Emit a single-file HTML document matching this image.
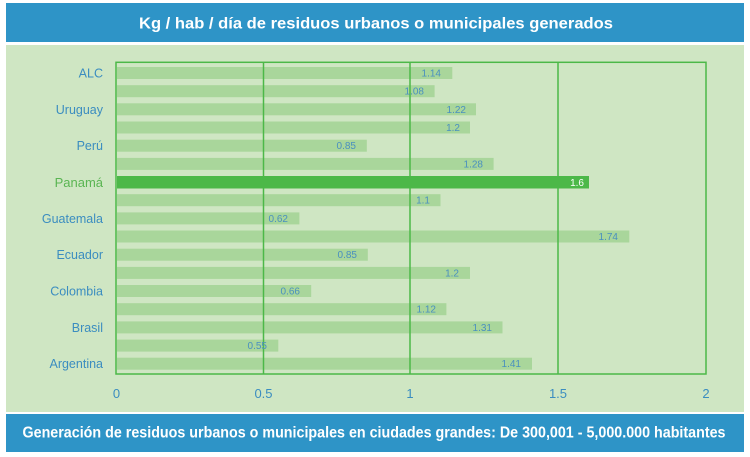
<!DOCTYPE html>
<html><head><meta charset="utf-8"><style>
html,body{margin:0;padding:0;background:#fff;}
svg{display:block;}
</style></head><body>
<svg width="750" height="457" viewBox="0 0 750 457" xmlns="http://www.w3.org/2000/svg" font-family="Liberation Sans, sans-serif">
<rect x="0" y="0" width="750" height="457" fill="#ffffff"/>
<rect x="6" y="3" width="738" height="39" fill="#2e94c7"/>
<text x="376" y="28.5" text-anchor="middle" font-size="15.5" font-weight="bold" fill="#ffffff" textLength="474" lengthAdjust="spacingAndGlyphs">Kg / hab / día de residuos urbanos o municipales generados</text>
<rect x="6" y="45" width="738" height="367" fill="#cfe6c3"/>
<rect x="6" y="414" width="738" height="38" fill="#2e94c7"/>
<text x="22.5" y="437.3" font-size="16" font-weight="bold" fill="#ffffff" textLength="703" lengthAdjust="spacingAndGlyphs">Generación de residuos urbanos o municipales en ciudades grandes: De 300,001 - 5,000.000 habitantes</text>

<g fill="#a9d69b">
<rect x="117" y="67.0" width="335.3" height="12"/>
<rect x="117" y="85.2" width="317.6" height="12"/>
<rect x="117" y="103.3" width="359.0" height="12"/>
<rect x="117" y="121.5" width="353.0" height="12"/>
<rect x="117" y="139.7" width="249.8" height="12"/>
<rect x="117" y="157.9" width="376.6" height="12"/>
<rect x="117" y="194.2" width="323.5" height="12"/>
<rect x="117" y="212.4" width="182.4" height="12"/>
<rect x="117" y="230.5" width="512.3" height="12"/>
<rect x="117" y="248.7" width="250.8" height="12"/>
<rect x="117" y="266.9" width="353.0" height="12"/>
<rect x="117" y="285.0" width="194.2" height="12"/>
<rect x="117" y="303.2" width="329.4" height="12"/>
<rect x="117" y="321.4" width="385.5" height="12"/>
<rect x="117" y="339.6" width="161.3" height="12"/>
<rect x="117" y="357.7" width="415.0" height="12"/>
</g>
<rect x="117" y="176.0" width="472" height="12.5" fill="#4cb848"/>

<g stroke="#4cb848" stroke-width="1.5" fill="none">
<rect x="116" y="62.3" width="590" height="311.7"/>
<line x1="263.5" y1="62.3" x2="263.5" y2="374"/>
<line x1="410" y1="62.3" x2="410" y2="374"/>
<line x1="558" y1="62.3" x2="558" y2="374"/>
</g>

<g font-size="10" fill="#4a90bf" text-anchor="end">
<text x="441" y="76.5">1.14</text>
<text x="424" y="94.7">1.08</text>
<text x="466" y="112.8">1.22</text>
<text x="460" y="131.0">1.2</text>
<text x="356" y="149.2">0.85</text>
<text x="483" y="167.4">1.28</text>
<text x="430" y="203.7">1.1</text>
<text x="288" y="221.9">0.62</text>
<text x="618" y="240.0">1.74</text>
<text x="357" y="258.2">0.85</text>
<text x="459" y="276.4">1.2</text>
<text x="300" y="294.5">0.66</text>
<text x="436" y="312.7">1.12</text>
<text x="492" y="330.9">1.31</text>
<text x="267" y="349.1">0.55</text>
<text x="521" y="367.2">1.41</text>
</g>
<text x="584" y="186" font-size="10" fill="#ffffff" text-anchor="end">1.6</text>

<g font-size="12.5" fill="#3b8dc0" text-anchor="end">
<text x="103" y="77.5">ALC</text>
<text x="103" y="113.8">Uruguay</text>
<text x="103" y="150.2">Perú</text>
<text x="103" y="223.0" >Guatemala</text>
<text x="103" y="259.2">Ecuador</text>
<text x="103" y="295.5">Colombia</text>
<text x="103" y="331.9">Brasil</text>
<text x="103" y="368.2">Argentina</text>
</g>
<text x="103" y="187" font-size="13" fill="#5ab552" text-anchor="end">Panamá</text>

<g font-size="13" fill="#3b8dc0" text-anchor="middle">
<text x="116.5" y="398">0</text>
<text x="263.5" y="398">0.5</text>
<text x="410" y="398">1</text>
<text x="558" y="398">1.5</text>
<text x="706" y="398">2</text>
</g>
</svg>
</body></html>
